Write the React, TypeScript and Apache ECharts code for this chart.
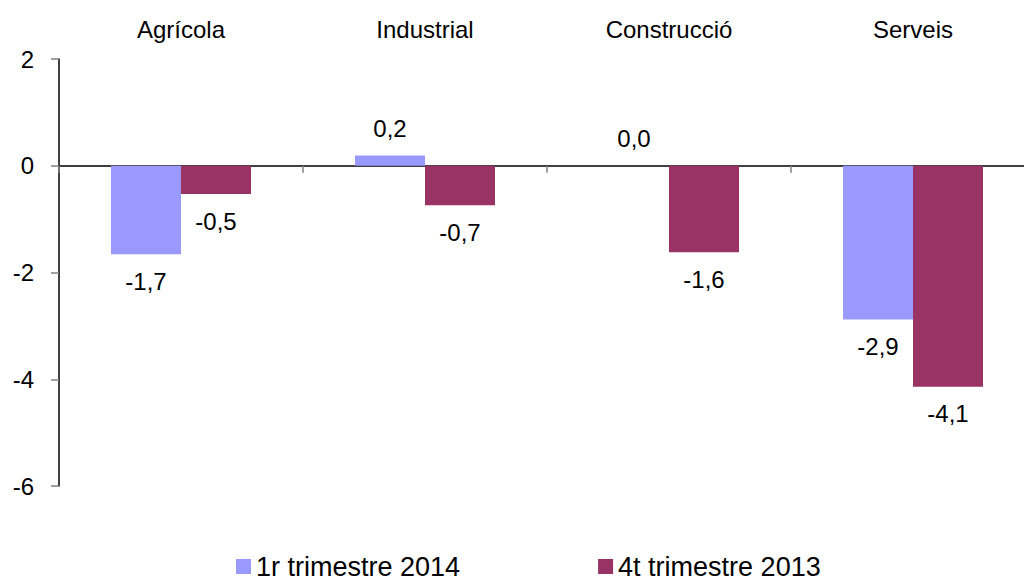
import React, { useEffect, useRef } from "react";
import * as echarts from "echarts";

const categories = ["Agrícola", "Industrial", "Construcció", "Serveis"];
const seriesNames = ["1r trimestre 2014", "4t trimestre 2013"];
const q1_2014 = [-1.66, 0.19, 0.0, -2.88];
const q4_2013 = [-0.53, -0.74, -1.62, -4.14];
const yTicks = { min: -6, max: 2, interval: 2 };
const colors = ["#9999FF", "#993366"];

const FONT = "'Liberation Sans', Arial, sans-serif";

function fmt(v: number) {
  return v.toFixed(1).replace(".", ",");
}

function toData(values: number[]) {
  return values.map((v) => ({
    value: v,
    label: { position: v < 0 ? "bottom" : "top" },
  }));
}

export default function App() {
  const ref = useRef<HTMLDivElement>(null);
  useEffect(() => {
    if (!ref.current) return;
    const chart = echarts.init(ref.current, undefined, { renderer: "svg" });
    const labelCommon = {
      show: true,
      distance: 15,
      fontSize: 24,
      fontFamily: FONT,
      color: "#000",
      formatter: (p: any) => fmt(p.value),
    };
    chart.setOption({
      animation: false,
      backgroundColor: "#fff",
      textStyle: { fontFamily: FONT },
      grid: {
        left: 59,
        top: 59,
        bottom: 95,
        width: 976,
        containLabel: false,
        outerBoundsMode: "none",
      },
      legend: {
        left: 236,
        top: 553,
        padding: 0,
        itemWidth: 15,
        itemHeight: 15,
        itemGap: 138,
        icon: "rect",
        textStyle: { fontSize: 27, lineHeight: 22, fontFamily: FONT, color: "#000" },
        data: seriesNames,
      },
      xAxis: [
        {
          type: "category",
          data: categories,
          position: "top",
          axisLine: { show: false, onZero: false },
          axisTick: { show: false },
          axisLabel: { fontSize: 24, fontFamily: FONT, color: "#000", margin: 18 },
        },
        {
          type: "category",
          data: categories,
          position: "bottom",
          axisLine: { show: true, onZero: true, lineStyle: { color: "#000", width: 1.5 } },
          axisTick: { show: true, length: 7, lineStyle: { color: "#808080", width: 1.5 } },
          axisLabel: { show: false },
        },
      ],
      yAxis: {
        type: "value",
        min: yTicks.min,
        max: yTicks.max,
        interval: yTicks.interval,
        splitLine: { show: false },
        axisLine: { show: true, lineStyle: { color: "#000", width: 1.5 } },
        axisTick: { show: true, length: 8, lineStyle: { color: "#808080", width: 1.5 } },
        axisLabel: { fontSize: 24, fontFamily: FONT, color: "#000", margin: 25 },
      },
      series: [
        {
          name: seriesNames[0],
          type: "bar",
          xAxisIndex: 0,
          data: toData(q1_2014),
          barWidth: 70,
          barGap: "0%",
          itemStyle: { color: colors[0] },
          label: labelCommon,
        },
        {
          name: seriesNames[1],
          type: "bar",
          xAxisIndex: 0,
          data: toData(q4_2013),
          barWidth: 70,
          barGap: "0%",
          itemStyle: { color: colors[1] },
          label: labelCommon,
        },
      ],
    });
    return () => chart.dispose();
  }, []);
  return (
    <div
      ref={ref}
      style={{ position: "fixed", left: 0, top: 0, width: 1024, height: 581 }}
    />
  );
}
